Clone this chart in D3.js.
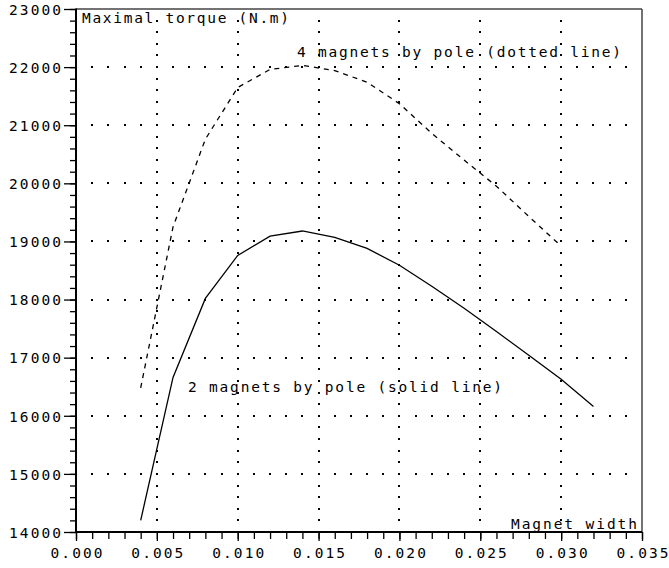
<!DOCTYPE html>
<html>
<head>
<meta charset="utf-8">
<script src="https://cdn.jsdelivr.net/npm/d3@7"></script>
<style>
  html, body { margin: 0; padding: 0; background: #fff; }
  svg { display: block; }
  text { font-family: "DejaVu Sans Mono", monospace; fill: #000; }
</style>
</head>
<body>
<svg id="chart" width="669" height="568"></svg>
<script>
// ---- data ----
const widths2 = [0.004, 0.006, 0.008, 0.010, 0.012, 0.014, 0.016, 0.018, 0.020, 0.022, 0.024, 0.026, 0.028, 0.030, 0.032];
const torque2 = [14200, 16660, 18020, 18760, 19090, 19180, 19070, 18880, 18590, 18230, 17850, 17450, 17040, 16630, 16160];
const widths4 = [0.004, 0.006, 0.008, 0.010, 0.012, 0.014, 0.016, 0.018, 0.020, 0.022, 0.024, 0.026, 0.028, 0.030];
const torque4 = [16480, 19250, 20760, 21650, 21960, 22030, 21940, 21740, 21370, 20860, 20400, 19950, 19430, 18920];
const xTicks = [0.000, 0.005, 0.010, 0.015, 0.020, 0.025, 0.030, 0.035];
const yTicks = [14000, 15000, 16000, 17000, 18000, 19000, 20000, 21000, 22000, 23000];
const xMinorStep = 0.001;
const yMinorStep = 200;
const titleY = "Maximal torque (N.m)";
const titleX = "Magnet width";
const label4 = "4 magnets by pole (dotted line)";
const label2 = "2 magnets by pole (solid line)";

// ---- layout ----
const svg = d3.select("#chart");
const L = 76, R = 642, T = 9, B = 532;
const x = d3.scaleLinear().domain([0, 0.035]).range([L, R]);
const y = d3.scaleLinear().domain([14000, 23000]).range([B, T]);

const xMinor = d3.range(0, 0.035 + 1e-9, xMinorStep).map(v => +v.toFixed(3));
const yMinor = d3.range(14000, 23000 + 1, yMinorStep);

// grid dots
const grid = svg.append("g").attr("shape-rendering", "crispEdges");
const hGridVals = yTicks.filter(v => v > 14000 && v < 23000);
const hDotX = xMinor.filter(v => v > 0 && v < 0.035);
hGridVals.forEach(gv => {
  grid.selectAll(null).data(hDotX).enter().append("rect")
    .attr("x", d => Math.round(x(d)) - 1).attr("y", Math.round(y(gv)) - 1)
    .attr("width", 2).attr("height", 2).attr("fill", "#000");
});
const vGridVals = xTicks.filter(v => v > 0 && v < 0.035);
const vDotY = yMinor.filter(v => v > 14000 && v < 23000);
vGridVals.forEach(gv => {
  grid.selectAll(null).data(vDotY).enter().append("rect")
    .attr("x", Math.round(x(gv)) - 1).attr("y", d => Math.round(y(d)) - 1)
    .attr("width", 2).attr("height", 2).attr("fill", "#000");
});

// frame (top/right)
svg.append("line").attr("x1", L).attr("x2", R).attr("y1", T).attr("y2", T)
  .attr("stroke", "#444").attr("stroke-width", 1.5);
svg.append("line").attr("x1", R).attr("x2", R).attr("y1", T).attr("y2", B)
  .attr("stroke", "#444").attr("stroke-width", 1.5);

// axes: minor ticks
svg.append("g").attr("transform", `translate(0,${B})`)
  .call(d3.axisBottom(x).tickValues(xMinor).tickSize(7).tickFormat(""))
  .call(g => g.select(".domain").remove())
  .selectAll("line").attr("stroke", "#000").attr("stroke-width", 1.3);
svg.append("g").attr("transform", `translate(${L},0)`)
  .call(d3.axisLeft(y).tickValues(yMinor).tickSize(6).tickFormat(""))
  .call(g => g.select(".domain").remove())
  .selectAll("line").attr("stroke", "#000").attr("stroke-width", 1.3);

// major ticks + labels
const xAxis = svg.append("g").attr("transform", `translate(0,${B})`)
  .call(d3.axisBottom(x).tickValues(xTicks).tickSize(9).tickPadding(0).tickFormat(d3.format(".3f")));
xAxis.select(".domain").remove();
xAxis.selectAll("line").attr("stroke", "#000").attr("stroke-width", 1.3);
xAxis.selectAll("text").attr("font-size", 14.5).attr("dy", null).attr("y", 26)
  .attr("textLength", 52).attr("lengthAdjust", "spacing")
  .style("font-family", "'DejaVu Sans Mono', monospace").attr("fill", "#000");

const yAxis = svg.append("g").attr("transform", `translate(${L},0)`)
  .call(d3.axisLeft(y).tickValues(yTicks).tickSize(12).tickPadding(0).tickFormat(d3.format("d")));
yAxis.select(".domain").remove();
yAxis.selectAll("line").attr("stroke", "#000").attr("stroke-width", 1.3);
yAxis.selectAll("text").attr("font-size", 14.5).attr("x", -15).attr("dy", "0.36em")
  .attr("textLength", 52).attr("lengthAdjust", "spacing")
  .style("font-family", "'DejaVu Sans Mono', monospace").attr("fill", "#000");

// axis lines
svg.append("line").attr("x1", L).attr("x2", L).attr("y1", T - 0.5).attr("y2", B + 1)
  .attr("stroke", "#000").attr("stroke-width", 2);
svg.append("line").attr("x1", L).attr("x2", R).attr("y1", B).attr("y2", B)
  .attr("stroke", "#000").attr("stroke-width", 2);

// curves
const line = d3.line().x(d => x(d[0])).y(d => y(d[1]));
svg.append("path").datum(d3.zip(widths2, torque2)).attr("d", line)
  .attr("fill", "none").attr("stroke", "#000").attr("stroke-width", 1.3);
svg.append("path").datum(d3.zip(widths4, torque4)).attr("d", line)
  .attr("fill", "none").attr("stroke", "#000").attr("stroke-width", 1.3)
  .attr("stroke-dasharray", "5,5");

// text labels
function label(txt, xx, yy, len) {
  svg.append("text").attr("x", xx).attr("y", yy).attr("font-size", 14.5)
    .attr("textLength", len).attr("lengthAdjust", "spacing").text(txt);
}
label(titleY, 82, 23, 207);
label(label4, 297, 56.5, 324);
label(label2, 188, 392, 314);
label(titleX, 511, 528.5, 126);
</script>
</body>
</html>
